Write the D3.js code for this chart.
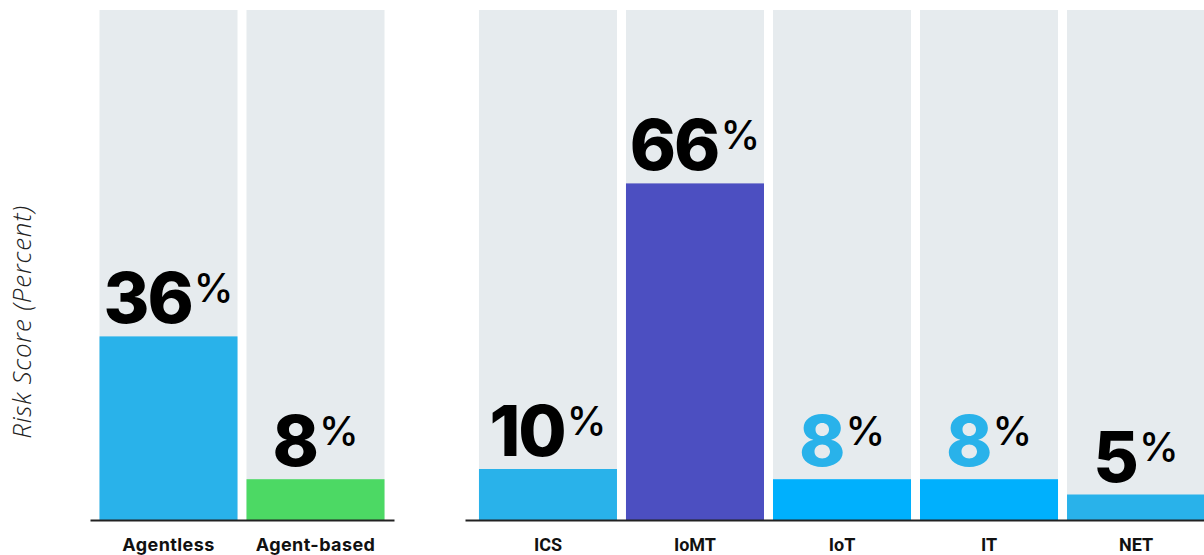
<!DOCTYPE html>
<html>
<head>
<meta charset="utf-8">
<script src="https://cdn.jsdelivr.net/npm/d3@7/dist/d3.min.js"></script>
<style>
  html, body { margin: 0; padding: 0; background: #ffffff; }
  svg { display: block; }
</style>
</head>
<body>
<svg id="chart" width="1204" height="555"></svg>
<script>
// Deployment type panel
const deployCategories = ["Agentless", "Agent-based"];
const deployValues = [36, 8];

// Device class panel
const deviceCategories = ["ICS", "IoMT", "IoT", "IT", "NET"];
const deviceValues = [10, 66, 8, 8, 5];

// Bar fills and value label colours, per panel
const deployColors = ["#29b2ea", "#4cd964"];
const deviceColors = ["#29b2ea", "#4c4fc1", "#00b0fd", "#00b0fd", "#29b2ea"];
const deployNumberColors = ["#000000", "#000000"];
const deviceNumberColors = ["#000000", "#000000", "#29b2ea", "#29b2ea", "#000000"];

const yTicks = [0, 100];

const svg = d3.select("#chart");
const trackColor = "#e6ebee";

const y = d3.scaleLinear().domain(yTicks).range([520, 10]);

function drawPanel(categories, values, colors, numberColors, range, outerPad, labelFont) {
  const x = d3.scaleBand()
    .domain(categories)
    .range(range)
    .paddingInner(0.0612)
    .paddingOuter(outerPad);

  const g = svg.append("g");
  const rows = categories.map((c, i) => ({ c, v: values[i], fill: colors[i], num: numberColors[i] }));

  // full-height track behind each bar
  g.selectAll("rect.track").data(rows).join("rect")
    .attr("class", "track")
    .attr("x", d => x(d.c))
    .attr("width", x.bandwidth())
    .attr("y", y(100))
    .attr("height", y(0) - y(100))
    .attr("fill", trackColor);

  g.selectAll("rect.bar").data(rows).join("rect")
    .attr("class", "bar")
    .attr("x", d => x(d.c))
    .attr("width", x.bandwidth())
    .attr("y", d => y(d.v))
    .attr("height", d => y(0) - y(d.v))
    .attr("fill", d => d.fill);

  // value label: big number with a raised percent sign
  const lbl = g.selectAll("text.value").data(rows).join("text")
    .attr("class", "value")
    .attr("x", d => x(d.c) + x.bandwidth() / 2)
    .attr("y", d => y(d.v) - 13)
    .attr("text-anchor", "middle");
  lbl.append("tspan")
    .attr("font-family", "Inter, 'Open Sans', sans-serif")
    .attr("font-weight", 800)
    .attr("font-size", 70)
    .attr("letter-spacing", -2)
    .attr("fill", d => d.num)
    .text(d => d.v);
  lbl.append("tspan")
    .attr("font-family", "Inter, 'Open Sans', sans-serif")
    .attr("font-weight", 500)
    .attr("font-size", 40)
    .attr("dx", 2)
    .attr("dy", -21)
    .attr("fill", "#000")
    .text("%");

  const axis = g.append("g")
    .attr("transform", `translate(0,${y(0)})`)
    .call(d3.axisBottom(x).tickSize(0).tickPadding(18).tickSizeOuter(0));
  axis.select(".domain").attr("stroke", "#222").attr("stroke-width", 2);
  axis.selectAll(".tick text")
    .attr("font-family", labelFont.family)
    .attr("font-weight", labelFont.weight)
    .attr("font-size", labelFont.size)
    .attr("letter-spacing", labelFont.spacing)
    .attr("fill", "#111");
}

drawPanel(deployCategories, deployValues, deployColors, deployNumberColors,
  [90, 394], 0.0646, { family: "Inter, 'Open Sans', sans-serif", weight: 700, size: 18, spacing: 0.4 });
drawPanel(deviceCategories, deviceValues, deviceColors, deviceNumberColors,
  [465, 1219], 0.095, { family: "Roboto, sans-serif", weight: 700, size: 18, spacing: 0 });

// vertical axis title
svg.append("text")
  .attr("transform", "translate(31,322) rotate(-90)")
  .attr("text-anchor", "middle")
  .attr("font-family", "'Open Sans', Lato, sans-serif")
  .attr("font-style", "italic")
  .attr("font-weight", 300)
  .attr("font-size", 26)
  .attr("letter-spacing", 0.8)
  .attr("fill", "#222")
  .text("Risk Score (Percent)");
</script>
</body>
</html>
